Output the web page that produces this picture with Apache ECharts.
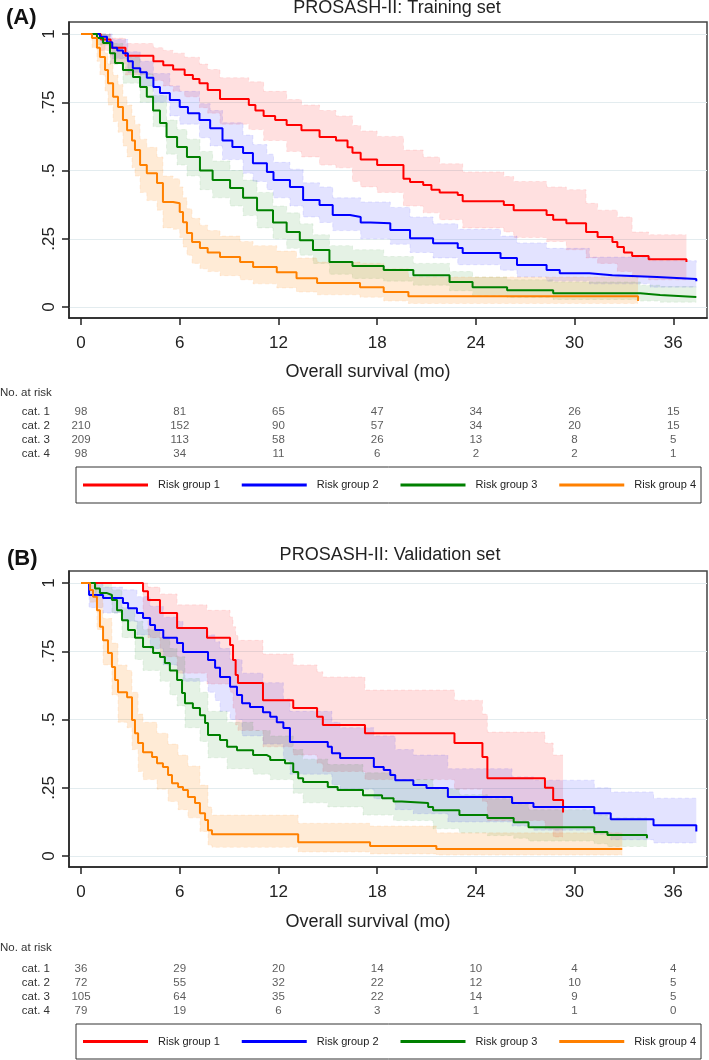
<!DOCTYPE html>
<html>
<head>
<meta charset="utf-8">
<script src="https://cdn.jsdelivr.net/npm/echarts/dist/echarts.min.js"></script>
<style>
html,body{margin:0;padding:0;background:#fff;}
#chart{width:709px;height:1060px;}
</style>
</head>
<body>
<div id="chart"></div>
<script>
// ---------- tick labels / categories ----------
const xTicks = [0, 6, 12, 18, 24, 30, 36];
const yTicks = [0, 0.25, 0.5, 0.75, 1];
const yTickLabels = ['0', '.25', '.5', '.75', '1'];
const groupNames = ['Risk group 1', 'Risk group 2', 'Risk group 3', 'Risk group 4'];
const riskRows = ['cat. 1', 'cat. 2', 'cat. 3', 'cat. 4'];

// ---------- (A) Training set: Kaplan-Meier steps [month, survival] ----------
const trainKM1 = [[0,1],[1.2,0.98],[1.8,0.95],[2.7,0.92],[4.4,0.9],[5.0,0.886],[5.6,0.87],[6.3,0.85],[6.8,0.835],[7.2,0.82],[7.7,0.795],[8.45,0.762],[10.2,0.74],[10.6,0.72],[11.1,0.70],[11.8,0.685],[12.5,0.667],[13.4,0.648],[14.5,0.623],[15.5,0.61],[16.2,0.585],[16.5,0.565],[17.0,0.54],[18.0,0.52],[19.6,0.47],[20.0,0.458],[20.8,0.447],[21.3,0.43],[21.8,0.42],[22.9,0.41],[23.2,0.388],[25.7,0.374],[26.3,0.355],[28.3,0.337],[28.7,0.32],[29.5,0.307],[30.7,0.275],[31.4,0.257],[32.3,0.238],[32.6,0.22],[33.0,0.2],[33.5,0.187],[34.5,0.175],[36.8,0.175],[36.8,0.165]];
const trainKM2 = [[0,1],[1.15,0.99],[1.58,0.97],[1.9,0.95],[2.2,0.94],[2.55,0.93],[2.85,0.90],[3.15,0.875],[3.6,0.86],[4.0,0.84],[4.4,0.806],[4.8,0.784],[5.4,0.758],[6.0,0.733],[6.5,0.71],[7.2,0.685],[7.85,0.655],[8.6,0.61],[9.2,0.586],[9.85,0.564],[10.45,0.527],[11.3,0.495],[11.7,0.465],[12.7,0.44],[13.5,0.392],[14.5,0.374],[15.3,0.337],[16.35,0.33],[17.0,0.31],[17.6,0.307],[18.8,0.282],[20.0,0.252],[21.4,0.234],[22.9,0.216],[23.2,0.198],[25.5,0.18],[26.5,0.154],[28.3,0.136],[29.1,0.124],[30.9,0.117],[32.3,0.11],[35.0,0.103],[37.4,0.103],[37.4,0.095]];
const trainKM3 = [[0,1],[0.97,0.985],[1.34,0.967],[1.76,0.93],[2.07,0.894],[2.55,0.868],[3.16,0.843],[3.59,0.806],[4.0,0.77],[4.38,0.72],[4.8,0.674],[5.2,0.623],[5.84,0.586],[6.44,0.55],[7.23,0.50],[8.0,0.465],[9.06,0.436],[9.85,0.40],[10.7,0.355],[11.67,0.31],[12.5,0.275],[13.3,0.245],[14.1,0.209],[15.1,0.165],[16.5,0.15],[18.4,0.136],[20.2,0.117],[22.4,0.092],[23.8,0.073],[25.9,0.062],[28.7,0.051],[34.0,0.044],[35.2,0.037],[37.4,0.037]];
const trainKM4 = [[0,1],[0.67,0.985],[0.97,0.95],[1.15,0.916],[1.46,0.868],[1.64,0.82],[1.95,0.77],[2.25,0.733],[2.55,0.685],[2.8,0.648],[3.1,0.61],[3.28,0.575],[3.59,0.52],[4.0,0.49],[4.62,0.454],[4.98,0.385],[5.6,0.38],[6.0,0.348],[6.2,0.311],[6.44,0.271],[6.75,0.238],[7.23,0.216],[7.7,0.2],[8.45,0.183],[9.67,0.165],[10.46,0.147],[11.9,0.128],[13.1,0.106],[14.35,0.088],[16.96,0.073],[18.4,0.055],[19.9,0.04],[33.86,0.04],[33.86,0.022]];

// confidence bands [month, lower, upper]
const trainCI1 = [[0,1,1],[1.2,0.94,1],[1.8,0.89,0.985],[2.7,0.85,0.965],[4.4,0.83,0.95],[5.0,0.81,0.94],[5.6,0.79,0.93],[6.3,0.77,0.915],[7.2,0.73,0.89],[7.7,0.71,0.87],[8.45,0.67,0.84],[10.2,0.65,0.825],[11.1,0.61,0.79],[12.5,0.57,0.76],[13.4,0.55,0.74],[14.5,0.52,0.72],[15.5,0.51,0.70],[16.5,0.46,0.665],[17.0,0.44,0.645],[18.0,0.42,0.625],[19.6,0.37,0.575],[20.8,0.345,0.55],[21.8,0.32,0.525],[23.2,0.29,0.495],[25.7,0.275,0.478],[26.3,0.255,0.46],[28.3,0.24,0.44],[29.5,0.21,0.43],[30.7,0.18,0.38],[31.4,0.16,0.355],[32.6,0.13,0.33],[33.5,0.11,0.275],[34.5,0.1,0.265],[36.8,0.1,0.265]];
const trainCI2 = [[0,1,1],[1.15,0.97,1],[1.9,0.91,0.98],[2.85,0.86,0.935],[3.6,0.81,0.90],[4.4,0.75,0.855],[5.4,0.70,0.81],[6.0,0.67,0.79],[7.2,0.62,0.745],[7.85,0.59,0.72],[8.6,0.54,0.675],[9.85,0.49,0.63],[10.45,0.46,0.595],[11.3,0.43,0.56],[11.7,0.40,0.53],[12.7,0.37,0.505],[13.5,0.33,0.455],[14.5,0.31,0.44],[15.3,0.28,0.40],[17.0,0.25,0.385],[18.8,0.23,0.365],[20.0,0.20,0.33],[21.4,0.18,0.305],[22.9,0.155,0.285],[25.5,0.135,0.26],[26.5,0.11,0.235],[28.3,0.095,0.215],[30.9,0.085,0.183],[34.6,0.073,0.17],[37.4,0.073,0.16]];
const trainCI3 = [[0,1,1],[0.97,0.96,1],[1.76,0.89,0.965],[2.55,0.82,0.915],[3.59,0.75,0.855],[4.38,0.66,0.775],[5.2,0.56,0.685],[5.84,0.52,0.65],[6.44,0.48,0.615],[7.23,0.43,0.57],[8.0,0.40,0.535],[9.06,0.37,0.50],[9.85,0.335,0.465],[10.7,0.29,0.42],[11.67,0.25,0.37],[12.5,0.215,0.345],[13.3,0.19,0.305],[14.1,0.16,0.265],[15.1,0.12,0.225],[16.5,0.105,0.21],[18.4,0.095,0.185],[20.2,0.08,0.16],[22.4,0.06,0.13],[23.8,0.042,0.11],[25.9,0.035,0.1],[28.7,0.028,0.092],[34.0,0.022,0.08],[35.2,0.018,0.075],[37.4,0.018,0.075]];
const trainCI4 = [[0,1,1],[0.67,0.95,1],[0.97,0.90,0.985],[1.15,0.85,0.965],[1.46,0.79,0.93],[1.64,0.74,0.89],[1.95,0.68,0.85],[2.25,0.64,0.815],[2.55,0.59,0.77],[2.8,0.55,0.74],[3.1,0.51,0.70],[3.28,0.48,0.67],[3.59,0.42,0.615],[4.0,0.39,0.585],[4.62,0.355,0.55],[4.98,0.29,0.48],[5.6,0.285,0.47],[6.0,0.255,0.44],[6.2,0.22,0.40],[6.44,0.19,0.36],[6.75,0.16,0.325],[7.23,0.14,0.30],[7.7,0.13,0.28],[8.45,0.115,0.26],[9.67,0.10,0.24],[10.46,0.085,0.225],[11.9,0.07,0.205],[13.1,0.055,0.18],[14.35,0.045,0.165],[16.96,0.036,0.16],[18.4,0.022,0.14],[19.9,0.013,0.11],[33.86,0.013,0.10]];

// ---------- (B) Validation set ----------
const validKM1 = [[0,1],[3.77,0.97],[4.07,0.938],[4.8,0.89],[5.84,0.835],[7.66,0.80],[9.06,0.773],[9.24,0.718],[9.4,0.663],[9.54,0.634],[11.06,0.571],[12.9,0.542],[14.35,0.51],[14.7,0.48],[17.26,0.45],[22.7,0.414],[24.4,0.363],[24.7,0.285],[28.2,0.25],[28.7,0.205],[29.3,0.205],[29.3,0.16]];
const validKM2 = [[0,1],[0.49,0.956],[1.34,0.945],[2.55,0.927],[2.86,0.908],[3.4,0.89],[3.77,0.872],[4.2,0.846],[4.5,0.828],[5.0,0.80],[5.84,0.78],[6.2,0.747],[7.72,0.718],[8.15,0.69],[8.45,0.656],[9.06,0.62],[9.48,0.59],[9.79,0.56],[10.27,0.546],[11.06,0.527],[11.5,0.51],[11.9,0.49],[12.3,0.469],[12.7,0.418],[15.0,0.40],[15.25,0.377],[15.75,0.359],[17.8,0.326],[18.4,0.315],[18.8,0.297],[19.1,0.278],[20.2,0.26],[21.0,0.249],[22.3,0.216],[26.2,0.194],[27.5,0.18],[31.2,0.157],[32.2,0.135],[34.8,0.113],[37.4,0.113],[37.4,0.09]];
const validKM3 = [[0,1],[0.85,0.98],[1.15,0.963],[1.58,0.956],[1.88,0.938],[2.19,0.90],[2.49,0.864],[2.86,0.828],[3.28,0.80],[3.77,0.766],[4.38,0.744],[4.8,0.729],[5.1,0.707],[5.4,0.68],[5.84,0.645],[6.14,0.597],[6.32,0.56],[6.8,0.542],[7.23,0.516],[7.54,0.487],[7.72,0.443],[8.45,0.425],[8.88,0.40],[9.48,0.388],[10.46,0.37],[11.3,0.363],[11.5,0.352],[12.4,0.34],[12.9,0.308],[13.2,0.285],[13.5,0.271],[15.0,0.253],[15.6,0.242],[17.14,0.223],[18.3,0.212],[19.0,0.2],[19.5,0.194],[21.1,0.18],[21.4,0.168],[23.0,0.15],[24.7,0.139],[26.3,0.124],[27.2,0.106],[31.2,0.088],[32.0,0.077],[34.4,0.077],[34.4,0.065]];
const validKM4 = [[0,1],[0.55,0.974],[0.73,0.95],[0.97,0.90],[1.15,0.84],[1.34,0.79],[1.64,0.744],[1.88,0.692],[2.07,0.645],[2.25,0.60],[2.8,0.582],[3.1,0.498],[3.28,0.45],[3.47,0.414],[3.77,0.38],[4.32,0.363],[4.62,0.34],[4.98,0.326],[5.29,0.297],[5.53,0.267],[5.9,0.253],[6.2,0.242],[6.5,0.216],[6.93,0.194],[7.23,0.157],[7.54,0.132],[7.72,0.095],[7.96,0.08],[13.2,0.051],[17.57,0.037],[21.6,0.026],[32.9,0.026]];

const validCI1 = [[0,1,1],[3.77,0.87,1],[4.07,0.80,0.985],[4.8,0.73,0.96],[5.84,0.67,0.92],[7.66,0.63,0.90],[9.06,0.60,0.875],[9.24,0.54,0.84],[9.4,0.48,0.81],[9.54,0.46,0.79],[11.06,0.40,0.74],[12.9,0.37,0.70],[14.35,0.34,0.675],[14.7,0.31,0.656],[17.26,0.28,0.608],[22.7,0.245,0.571],[24.4,0.20,0.52],[24.7,0.13,0.454],[28.2,0.10,0.414],[28.7,0.07,0.37],[29.3,0.07,0.37]];
const validCI2 = [[0,1,1],[0.49,0.91,0.995],[1.34,0.89,0.985],[2.55,0.86,0.975],[3.4,0.81,0.95],[4.2,0.76,0.915],[5.0,0.70,0.875],[5.84,0.68,0.86],[6.2,0.64,0.835],[7.72,0.60,0.81],[8.15,0.57,0.785],[8.45,0.53,0.76],[9.06,0.50,0.72],[9.79,0.44,0.67],[11.06,0.41,0.635],[12.3,0.35,0.575],[12.7,0.30,0.53],[15.25,0.26,0.49],[15.75,0.245,0.47],[17.8,0.21,0.44],[19.1,0.17,0.39],[20.2,0.155,0.37],[22.3,0.125,0.32],[26.2,0.11,0.29],[27.5,0.095,0.278],[31.2,0.08,0.25],[32.2,0.06,0.235],[34.8,0.048,0.212],[37.4,0.048,0.212]];
const validCI3 = [[0,1,1],[0.85,0.95,1],[1.88,0.89,0.975],[2.49,0.80,0.91],[3.28,0.72,0.86],[3.77,0.68,0.83],[4.8,0.64,0.80],[5.4,0.59,0.76],[5.84,0.55,0.73],[6.32,0.47,0.65],[7.23,0.42,0.60],[7.72,0.36,0.53],[8.88,0.32,0.49],[10.46,0.30,0.46],[11.5,0.28,0.44],[12.9,0.23,0.39],[13.5,0.195,0.355],[15.0,0.18,0.335],[17.14,0.15,0.305],[19.0,0.13,0.28],[21.4,0.10,0.245],[23.0,0.085,0.225],[24.7,0.075,0.21],[26.3,0.065,0.19],[27.2,0.055,0.17],[31.2,0.045,0.15],[32.0,0.035,0.14],[34.4,0.035,0.14]];
const validCI4 = [[0,1,1],[0.55,0.93,1],[0.97,0.83,0.95],[1.34,0.70,0.87],[1.88,0.59,0.78],[2.25,0.49,0.70],[2.8,0.47,0.68],[3.1,0.39,0.60],[3.47,0.31,0.52],[3.77,0.28,0.49],[4.62,0.245,0.45],[5.29,0.20,0.41],[5.9,0.17,0.37],[6.5,0.14,0.33],[7.23,0.09,0.26],[7.72,0.04,0.18],[7.96,0.032,0.15],[13.2,0.015,0.12],[17.57,0.008,0.11],[21.6,0.004,0.085],[32.9,0.004,0.085]];

// ---------- numbers at risk (at xTicks) ----------
const atRiskTrain1 = [98, 81, 65, 47, 34, 26, 15];
const atRiskTrain2 = [210, 152, 90, 57, 34, 20, 15];
const atRiskTrain3 = [209, 113, 58, 26, 13, 8, 5];
const atRiskTrain4 = [98, 34, 11, 6, 2, 2, 1];
const atRiskValid1 = [36, 29, 20, 14, 10, 4, 4];
const atRiskValid2 = [72, 55, 32, 22, 12, 10, 5];
const atRiskValid3 = [105, 64, 35, 22, 14, 9, 5];
const atRiskValid4 = [79, 19, 6, 3, 1, 1, 0];

// ---------- styling ----------
const FONT = "'Liberation Sans', Arial, Helvetica, sans-serif";
const colors = ['#ff0000', '#0000ff', '#008000', '#ff8000'];
const fills = ['rgba(255,0,0,0.12)', 'rgba(0,0,255,0.11)', 'rgba(0,128,0,0.10)', 'rgba(255,128,0,0.16)'];
const edges = ['rgba(255,0,0,0.09)', 'rgba(0,0,255,0.09)', 'rgba(0,128,0,0.08)', 'rgba(255,128,0,0.1)'];
const X_MIN = -0.73, X_MAX = 38.05, Y_MIN = -0.04, Y_MAX = 1.044;

function yLabel(v) {
  for (let i = 0; i < yTicks.length; i++) if (Math.abs(yTicks[i] - v) < 1e-6) return yTickLabels[i];
  return '';
}

function mainX(gi) {
  return {
    gridIndex: gi, type: 'value', min: X_MIN, max: X_MAX,
    axisLine: { show: true, onZero: false, lineStyle: { color: '#222', width: 1.5 } },
    axisTick: { show: true, length: 7, customValues: xTicks, lineStyle: { color: '#222', width: 1.5 } },
    axisLabel: { customValues: xTicks, fontSize: 17, color: '#222', fontFamily: FONT, margin: 17 },
    splitLine: { show: false }
  };
}
function mainY(gi) {
  return {
    gridIndex: gi, type: 'value', min: Y_MIN, max: Y_MAX,
    axisLine: { show: true, onZero: false, lineStyle: { color: '#222', width: 1.5 } },
    axisTick: { show: true, length: 7, customValues: yTicks, lineStyle: { color: '#222', width: 1.5 } },
    axisLabel: { customValues: yTicks, rotate: 90, fontSize: 17, color: '#222', fontFamily: FONT, margin: 11, formatter: yLabel },
    splitLine: { show: true, lineStyle: { color: '#e3ecef', width: 1.2 } }
  };
}
function tableX(gi) {
  return { gridIndex: gi, type: 'value', min: X_MIN, max: X_MAX, show: false };
}
function tableY(gi) {
  return {
    gridIndex: gi, type: 'category', data: riskRows, inverse: true,
    axisLine: { show: false }, axisTick: { show: false }, splitLine: { show: false },
    axisLabel: { interval: 0, fontSize: 11.5, fontFamily: FONT, color: '#333', margin: 19 }
  };
}

// step-shaped confidence band, drawn through the axis scales (api.coord)
function bandSeries(p, ci, g) {
  return {
    type: 'custom', xAxisIndex: p, yAxisIndex: p, silent: true, z: 1, clip: true,
    data: ci, encode: { x: 0, y: [1, 2] },
    renderItem: function (params, api) {
      if (params.dataIndex !== 0) return null;
      const upper = [], lower = [];
      for (let i = 0; i < ci.length; i++) {
        const t0 = ci[i][0];
        const t1 = i + 1 < ci.length ? ci[i + 1][0] : ci[i][0];
        upper.push(api.coord([t0, ci[i][2]]), api.coord([t1, ci[i][2]]));
        lower.push(api.coord([t0, ci[i][1]]), api.coord([t1, ci[i][1]]));
      }
      const poly = upper.concat(lower.slice().reverse());
      return {
        type: 'group',
        children: [
          { type: 'polygon', shape: { points: poly }, style: { fill: fills[g], stroke: null } },
          { type: 'polyline', shape: { points: upper }, style: { fill: null, stroke: edges[g], lineWidth: 1, lineDash: [4, 3] } },
          { type: 'polyline', shape: { points: lower }, style: { fill: null, stroke: edges[g], lineWidth: 1, lineDash: [4, 3] } }
        ]
      };
    }
  };
}

function panelSeries(p, kms, cis) {
  const out = [];
  cis.forEach((ci, g) => out.push(bandSeries(p, ci, g)));
  kms.forEach((km, g) => {
    out.push({
      type: 'line', name: groupNames[g], xAxisIndex: p, yAxisIndex: p,
      step: 'end', symbol: 'none', z: 3, data: km,
      color: colors[g], itemStyle: { color: colors[g] },
      lineStyle: { width: 2, color: colors[g] }
    });
  });
  return out;
}

function tableSeries(gi, rows) {
  const data = [];
  rows.forEach((row, r) => row.forEach((n, c) => data.push([xTicks[c], r, n])));
  return {
    type: 'scatter', xAxisIndex: gi, yAxisIndex: gi, symbolSize: 2, silent: true,
    itemStyle: { color: 'rgba(0,0,0,0)' }, data: data,
    label: { show: true, position: 'inside', formatter: p => String(p.value[2]), fontSize: 11.5, fontFamily: FONT, color: '#333' }
  };
}

function legendFor(top, padTop) {
  return {
    data: groupNames, left: 76, top: top, width: 660, orient: 'horizontal', icon: 'rect',
    itemWidth: 65, itemHeight: 3, itemGap: 22, selectedMode: false,
    padding: [padTop, 5, padTop, 7], borderColor: '#333', borderWidth: 1,
    itemStyle: { borderWidth: 0 },
    textStyle: { fontSize: 11, fontFamily: FONT, color: '#222', padding: [0, 0, 0, 5], lineHeight: 16 }
  };
}

const titleStyle = { fontSize: 18, fontWeight: 'normal', color: '#222', fontFamily: FONT };
const riskTitleStyle = { fontSize: 11.5, fontWeight: 'normal', fontFamily: FONT, color: '#333' };
const option = {
  animation: false,
  backgroundColor: '#fff',
  title: [
    { text: '(A)', left: 6, top: 7, padding: 0, textStyle: { fontSize: 22, fontWeight: 'bold', color: '#111', fontFamily: FONT } },
    { text: 'PROSASH-II: Training set', left: 397, top: -1, textAlign: 'center', padding: 0, textStyle: titleStyle },
    { text: 'Overall survival (mo)', left: 368, top: 363, textAlign: 'center', padding: 0, textStyle: titleStyle },
    { text: 'No. at risk', left: 0, top: 387, padding: 0, textStyle: riskTitleStyle },
    { text: '(B)', left: 7, top: 548, padding: 0, textStyle: { fontSize: 22, fontWeight: 'bold', color: '#111', fontFamily: FONT } },
    { text: 'PROSASH-II: Validation set', left: 390, top: 546, textAlign: 'center', padding: 0, textStyle: titleStyle },
    { text: 'Overall survival (mo)', left: 368, top: 913, textAlign: 'center', padding: 0, textStyle: titleStyle },
    { text: 'No. at risk', left: 0, top: 942, padding: 0, textStyle: riskTitleStyle }
  ],
  legend: [legendFor(467, 10), legendFor(1024, 9.5)],
  grid: [
    { left: 69, top: 22, width: 638, height: 296, show: true, borderColor: '#444', borderWidth: 1.5, backgroundColor: '#fff' },
    { left: 69, top: 571, width: 638, height: 296, show: true, borderColor: '#444', borderWidth: 1.5, backgroundColor: '#fff' },
    { left: 69, top: 405, width: 638, height: 56 },
    { left: 69, top: 962, width: 638, height: 56 }
  ],
  xAxis: [mainX(0), mainX(1), tableX(2), tableX(3)],
  yAxis: [mainY(0), mainY(1), tableY(2), tableY(3)],
  series: [].concat(
    panelSeries(0, [trainKM1, trainKM2, trainKM3, trainKM4], [trainCI1, trainCI2, trainCI3, trainCI4]),
    panelSeries(1, [validKM1, validKM2, validKM3, validKM4], [validCI1, validCI2, validCI3, validCI4]),
    [tableSeries(2, [atRiskTrain1, atRiskTrain2, atRiskTrain3, atRiskTrain4]),
     tableSeries(3, [atRiskValid1, atRiskValid2, atRiskValid3, atRiskValid4])]
  )
};
const chart = echarts.init(document.getElementById('chart'));
chart.setOption(option);
</script>
</body>
</html>
